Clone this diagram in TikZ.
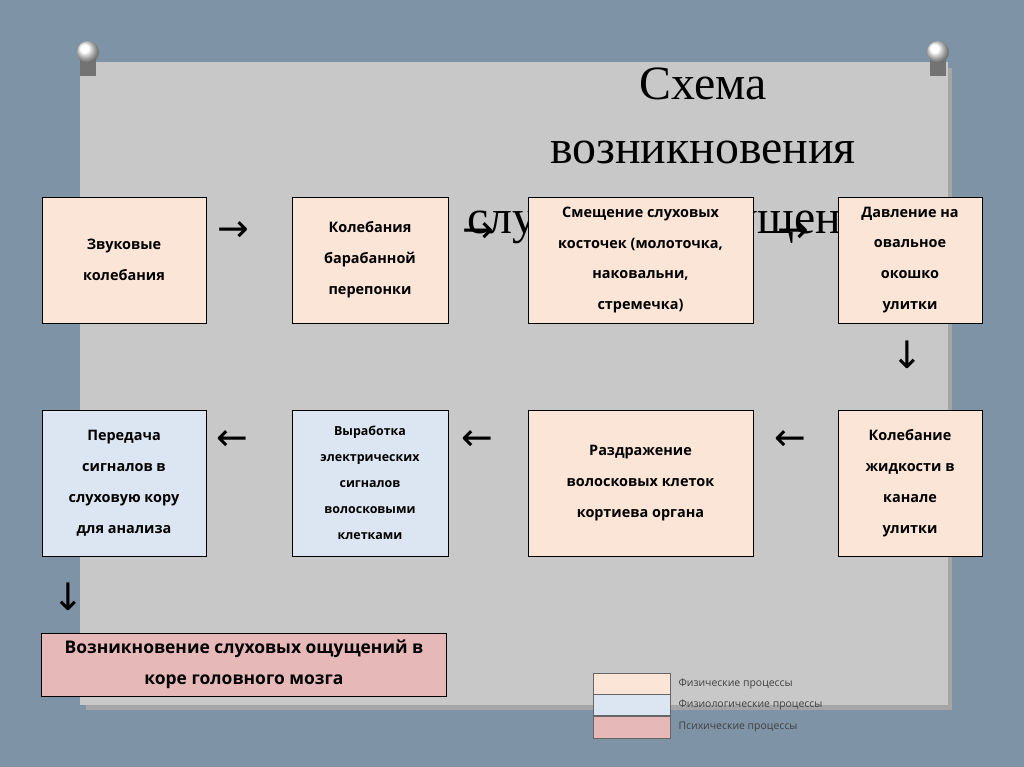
\documentclass[tikz,border=0pt]{standalone}
\usepackage{fontspec}
\setmainfont{Open Sans}
\newfontfamily\titlefont{Liberation Serif}
\newfontfamily\symfont{DejaVu Sans}
\usetikzlibrary{positioning}
\definecolor{wallblue}{HTML}{7E93A6}
\definecolor{boardgray}{HTML}{C8C8C8}
\definecolor{fizcol}{HTML}{FBE5D6}
\definecolor{fiziolcol}{HTML}{DCE6F2}
\definecolor{psycol}{HTML}{E6B9B8}
\tikzset{
  procbox/.style={draw=black,line width=1pt,align=center,font=\bfseries\fontsize{14.5}{31}\selectfont,inner sep=2pt},
  fizbox/.style={procbox,fill=fizcol},
  fiziolbox/.style={procbox,fill=fiziolcol},
  arrowtext/.style={font=\symfont\fontsize{38}{38}\selectfont},
  legendbox/.style={draw=black!60,minimum width=77bp,minimum height=21bp,inner sep=0pt},
  legendtext/.style={right,font=\fontsize{10.5}{12}\selectfont,text=black!75}
}
\begin{document}
\begin{tikzpicture}[x=1bp,y=-1bp]
\useasboundingbox (0,0) rectangle (1024,767);
\fill[wallblue] (0,0) rectangle (1024,767);
\fill[black!35] (86,68) rectangle (952,710);
\fill[boardgray] (80,62) rectangle (948,705);
% pins
\foreach \px in {88,938}{
  \fill[black!55] (\px-8,60) rectangle (\px+8,76);
  \shade[ball color=white] (\px,52) circle (11);
}
% title
\node (title) at (703,84) [font=\titlefont\fontsize{48}{52}\selectfont] {Схема};
\node (title2) at (703,152) [font=\titlefont\fontsize{48}{52}\selectfont] {возникновения};
\node (title3) at (680,222) [font=\titlefont\fontsize{48}{52}\selectfont] {слуховых ощущений};
% upper row
\node (zvuk) at (124,260) [fizbox,minimum width=164bp,minimum height=126bp] {Звуковые\\колебания};
\node (baraban) at (370,260) [fizbox,minimum width=156bp,minimum height=126bp] {Колебания\\барабанной\\перепонки};
\node (kostochki) at (640.5,260) [fizbox,minimum width=225bp,minimum height=126bp] {Смещение слуховых\\косточек (молоточка,\\наковальни,\\стремечка)};
\node (davlenie) at (910,260) [fizbox,minimum width=144bp,minimum height=126bp] {Давление на\\овальное\\окошко\\улитки};
% lower row
\node (peredacha) at (124,483) [fiziolbox,minimum width=164bp,minimum height=146bp] {Передача\\сигналов в\\слуховую кору\\для анализа};
\node (vyrabotka) at (370,483) [fiziolbox,minimum width=156bp,minimum height=146bp,font=\bfseries\fontsize{12.5}{26}\selectfont] {Выработка\\электрических\\сигналов\\волосковыми\\клетками};
\node (razdrazh) at (640.5,483) [fizbox,minimum width=225bp,minimum height=146bp] {Раздражение\\волосковых клеток\\кортиева органа};
\node (zhidkost) at (910,483) [fizbox,minimum width=144bp,minimum height=146bp] {Колебание\\жидкости в\\канале\\улитки};
% result
\node (oshch) at (244,664.5) [procbox,fill=psycol,minimum width=404bp,minimum height=63bp,font=\bfseries\fontsize{17.5}{31}\selectfont] {Возникновение слуховых ощущений в\\коре головного мозга};
% arrows
\node (a1) at (233,232) [arrowtext] {→};
\node (a2) at (478,233) [arrowtext] {→};
\node (a3) at (793,233) [arrowtext] {→};
\node (a4) at (907,355) [arrowtext] {↓};
\node (a5) at (790,441) [arrowtext] {←};
\node (a6) at (477,441) [arrowtext] {←};
\node (a7) at (232,441) [arrowtext] {←};
\node (a8) at (68,597) [arrowtext] {↓};
% legend
\node (lfiz) at (631.5,683.5) [legendbox,fill=fizcol] {};
\node (lfiziol) at (631.5,704.5) [legendbox,fill=fiziolcol] {};
\node (lpsy) at (631.5,727) [legendbox,fill=psycol,minimum height=22bp] {};
\node at (675,684) [legendtext] {Физические процессы};
\node at (675,705) [legendtext] {Физиологические процессы};
\node at (675,727) [legendtext] {Психические процессы};
\end{tikzpicture}
\end{document}
